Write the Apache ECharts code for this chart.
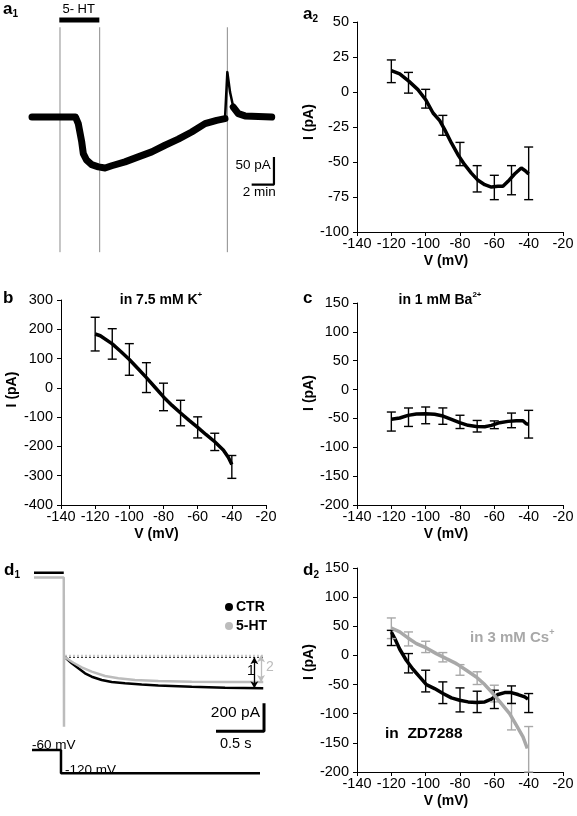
<!DOCTYPE html>
<html><head><meta charset="utf-8">
<script src="https://cdn.jsdelivr.net/npm/echarts@6/dist/echarts.min.js"></script>
<style>html,body{margin:0;padding:0;background:#fff}#c{width:577px;height:816px}</style>
</head><body><div id="c"></div>
<script>
// ---------- a1: holding current trace (time in min, current in pA) ----------
const a1Time      = [0, 3.9, 4.15, 4.46, 4.6, 4.9, 5.35, 5.95, 6.55, 7.15, 8.34, 9.53, 10.74, 11.93, 13.12, 14.32, 15.52, 16.56, 17.31, 17.52, 17.76, 18.05, 18.5, 19.1, 21.5];
const a1Current   = [0, 0, -12, -45, -66, -78, -86, -90, -92, -88, -81, -72, -63, -51, -40, -27, -12, -6, -3, 81, 45, 18, 6, 2, 0];
const a1SpikeIndex = [18, 21];          // first/last sample of the wash-out transient
const a1ArtifactTimes = [2.51, 6.07, 17.52];
const a1ArtifactSpan  = [162, -244];
const a1DrugTimes  = [2.45, 6.04];
const a1DrugLevel  = 175;
const a1ScaleTimes = [19.7, 21.7];      // 2 min
const a1ScaleCurr  = [-72, -122];       // 50 pA

// ---------- a2: I-V of 5-HT current ----------
const a2V = [-120,-115.1,-109.7,-104.5,-100,-95.7,-91.8,-88.9,-85,-81.2,-77.3,-73.4,-69.5,-65.6,-61.7,-57.9,-55,-52,-48.2,-44.3,-42,-40];
const a2I = [15.2,12.9,7.6,1.7,-5.5,-15,-20.5,-26.9,-36.4,-44.8,-51.9,-57.9,-63.1,-66.2,-67.9,-67.4,-67.4,-63.8,-58.6,-54.3,-56.2,-58.6];
const errV = [-120,-110,-100,-90,-80,-70,-60,-50,-40];
const a2Mean = [14.8,6.6,-4.8,-23.8,-44.3,-62,-68.2,-63,-58.1];
const a2Err  = [8.1,7.4,6.7,7.1,8.3,9.4,8.7,10.4,18.8];

// ---------- b: in 7.5 mM K+ ----------
const bV = [-120,-117,-110,-105,-100,-95,-90,-85,-80,-75,-70,-65,-60,-55,-50,-45,-42,-40];
const bI = [184,178,150,124,97,66,35,2,-31,-60,-86,-111,-135,-160,-184,-212,-238,-262];
const bMean = [183.5,150,97,35,-31,-86,-135,-184.5,-270];
const bErr  = [57.5,52,54,51,47,43.5,36,29.5,39];

// ---------- c: in 1 mM Ba2+ ----------
const cV = [-120,-115.1,-110.3,-105.4,-100,-94.8,-89.9,-85,-80.2,-75.3,-70.5,-65.6,-61.7,-56.9,-52,-47.2,-43.3,-41.4,-40];
const cI = [-51.6,-49.3,-44.7,-42.4,-41.8,-42.9,-45.8,-51.6,-57.4,-62,-63.8,-64.4,-62,-57.4,-55.1,-54,-54,-59.2,-60];
const cMean = [-55.4,-47.9,-44.7,-46,-56,-63.5,-61,-53.4,-60];
const cErr  = [16.5,16,14.5,14.2,11.5,10,6.7,12.7,24];

// ---------- d1: hyperpolarisation-activated current (time in s, current in pA) ----------
const d1BaseTime = [0, 0.31];
const d1CtrBase = 0, d1HtBase = -35;
const d1StepTime = 0.3125, d1Transient = -1100;
const d1CtrTime = [0.323,0.393,0.462,0.531,0.601,0.705,0.809,0.948,1.122,1.295,1.643,1.99,2.388];
const d1CtrI    = [-604,-647,-683,-719,-743,-766,-781,-790,-798,-805,-815,-822,-826];
const d1HtTime  = [0.323,0.41,0.497,0.601,0.74,0.878,1.052,1.295,1.643,1.99,2.388];
const d1HtI     = [-600,-643,-676,-707,-738,-754,-766,-774,-779,-781,-781];
const d1InstTime = [0.323, 2.39];
const d1ArrowTimes = [2.295, 2.365];
const d1ScaleTimes = [1.896, 2.396];   // 0.5 s
const d1ScaleCurr  = [-933, -1133];    // 200 pA
const protoTime = [0, 0.302, 0.302, 2.375];
const protoMv   = [-60, -60, -120, -120];

// ---------- d2: in ZD7288 / in 3 mM Cs+ ----------
const dZV = [-120,-118,-115.1,-111.3,-107.4,-103.5,-99.6,-94.8,-89.9,-85,-80.2,-75.3,-70.5,-65.6,-61.7,-57.9,-54,-50.1,-46.2,-42.3,-40.4];
const dZI = [40.3,28.9,10.6,-8.3,-23.7,-36.9,-50,-56.9,-65.4,-72.9,-76.9,-79.7,-80.9,-79.7,-75.1,-67.1,-63.7,-63.7,-67.1,-71.1,-75.1];
const dZMean = [30,-13.4,-44,-64,-76.3,-79.7,-75.4,-67.4,-81.7];
const dZErr  = [13,16.6,18.6,18.6,20.6,18.3,15.7,15.1,16.3];
const dCV = [-120,-115.1,-110.3,-105.4,-99.6,-93.8,-88,-82.1,-76.3,-70.5,-65.6,-60.8,-55.9,-51.1,-47.2,-43.3,-40.8];
const dCI = [47,40.3,30,20.3,12.9,3.1,-5.4,-14,-25.4,-36.9,-50,-65.4,-82.6,-99.7,-119.7,-139.7,-159.7];
const dCMean = [46.6,28.3,14.6,-3.1,-24.9,-39,-65.4,-105,-161];
const dCErr  = [17.7,12,9.7,8,9.1,10.9,14.3,22.8,39];

const ivTicksX = {min:-140, max:-20, step:20};

// ================= build chart =================
const FONT = "'Liberation Sans', Arial, Helvetica, sans-serif";
const GRAY = '#a8a8a8';
const LGRAY = '#bcbcbc';
const zip = (a, b) => a.map((v, i) => [v, b[i]]);

const grids = [
  {left:32,  top:0.66,  width:245.3, height:277},   // a1
  {left:357, top:22,    width:206,   height:210},   // a2
  {left:61,  top:300,   width:205,   height:205},   // b
  {left:357, top:303,   width:206,   height:202},   // c
  {left:34,  top:558.7, width:240,   height:196},   // d1 current
  {left:32,  top:742.2, width:240,   height:38.9},  // d1 voltage
  {left:357, top:568,   width:206,   height:204}    // d2
];

function hiddenX(gi, min, max){ return {gridIndex:gi, type:'value', min, max, show:false}; }
function ivX(gi, shift){
  return {gridIndex:gi, type:'value', min:ivTicksX.min, max:ivTicksX.max, interval:ivTicksX.step,
    axisLine:{show:true, onZero:false, lineStyle:{color:'#000', width:1}},
    axisTick:{show:true, length:4, lineStyle:{color:'#000'}},
    axisLabel:{color:'#000', fontFamily:FONT, fontSize:14.5, margin:4, hideOverlap:false, interval:0},
    splitLine:{show:false},
    name:'V (mV)', nameLocation:'middle', nameGap:22,
    nameTextStyle:{color:'#000', fontFamily:FONT, fontSize:14, fontWeight:'bold', padding:[0, shift, 0, 0]}};
}
function ivY(gi, min, max, interval, gap, up){
  return {gridIndex:gi, type:'value', min, max, interval,
    axisLine:{show:true, onZero:false, lineStyle:{color:'#000', width:1}},
    axisTick:{show:true, length:4, lineStyle:{color:'#000'}},
    axisLabel:{color:'#000', fontFamily:FONT, fontSize:14.5, margin:8, hideOverlap:false, interval:0},
    splitLine:{show:false},
    name:'I (pA)', nameLocation:'middle', nameGap:gap, nameRotate:90,
    nameTextStyle:{color:'#000', fontFamily:FONT, fontSize:14, fontWeight:'bold', padding:[0, 0, 0, up]}};
}

const xAxis = [
  hiddenX(0, 0, 22),
  ivX(1, 28), ivX(2, 14), ivX(3, 28),
  hiddenX(4, 0, 2.5), hiddenX(5, 0, 2.5),
  ivX(6, 28)
];
const yAxis = [
  {gridIndex:0, type:'value', min:-290, max:210, show:false},
  ivY(1, -100, 50, 25, 38, 10),
  ivY(2, -400, 300, 100, 42, 26),
  ivY(3, -200, 150, 50, 36, 22),
  {gridIndex:4, type:'value', min:-1300, max:100, show:false},
  {gridIndex:5, type:'value', min:-140, max:-40, show:false},
  ivY(6, -200, 150, 50, 36, 16)
];

function line(ax, data, color, width, extra){
  return Object.assign({type:'line', xAxisIndex:ax, yAxisIndex:ax, data, symbol:'none', showSymbol:false,
    lineStyle:{color, width}, itemStyle:{color}, animation:false, silent:true, z:3}, extra || {});
}
function errRender(color){
  return function(params, api){
    const x = api.value(0), m = api.value(1), e = api.value(2);
    const top = api.coord([x, m + e]), bot = api.coord([x, m - e]);
    const hw = 4.5;
    const style = {stroke:color, lineWidth:1.4};
    return {type:'group', children:[
      {type:'line', shape:{x1:top[0], y1:top[1], x2:bot[0], y2:bot[1]}, style},
      {type:'line', shape:{x1:top[0]-hw, y1:top[1], x2:top[0]+hw, y2:top[1]}, style},
      {type:'line', shape:{x1:bot[0]-hw, y1:bot[1], x2:bot[0]+hw, y2:bot[1]}, style}
    ]};
  };
}
function errSeries(ax, means, errs, color){
  return {type:'custom', xAxisIndex:ax, yAxisIndex:ax, renderItem:errRender(color),
    data:errV.map((v, i) => [v, means[i], errs[i]]), encode:{x:0, y:1}, animation:false, silent:true, z:4, clip:false};
}

const series = [];
// a1
const a1Pts = zip(a1Time, a1Current);
a1ArtifactTimes.forEach(t => series.push(line(0, a1ArtifactSpan.map(v => [t, v]), '#8c8c8c', 1, {z:2})));
series.push(line(0, a1Pts.slice(0, a1SpikeIndex[0] + 1), '#000', 7, {lineStyle:{color:'#000', width:7, join:'round', cap:'round'}}));
series.push(line(0, a1Pts.slice(a1SpikeIndex[0], a1SpikeIndex[1] + 1), '#000', 2.5, {lineStyle:{color:'#000', width:2.5, join:'round'}}));
series.push(line(0, a1Pts.slice(a1SpikeIndex[1]), '#000', 7, {lineStyle:{color:'#000', width:7, join:'round', cap:'round'}}));
series.push(line(0, a1DrugTimes.map(t => [t, a1DrugLevel]), '#000', 5));
series.push(line(0, [[a1ScaleTimes[1], a1ScaleCurr[0]], [a1ScaleTimes[1], a1ScaleCurr[1]], [a1ScaleTimes[0], a1ScaleCurr[1]]], '#000', 2.2));
// a2
series.push(line(1, zip(a2V, a2I), '#000', 3.5));
series.push(errSeries(1, a2Mean, a2Err, '#000'));
// b
series.push(line(2, zip(bV, bI), '#000', 3.5));
series.push(errSeries(2, bMean, bErr, '#000'));
// c
series.push(line(3, zip(cV, cI), '#000', 3.5));
series.push(errSeries(3, cMean, cErr, '#000'));
// d1
series.push(line(4, d1InstTime.map(t => [t, d1HtI[0] + 10]), LGRAY, 1, {lineStyle:{color:LGRAY, width:1, type:[2,2]}}));
series.push(line(4, d1InstTime.map(t => [t, d1CtrI[0]]), '#000', 1, {lineStyle:{color:'#000', width:1, type:[2,2]}}));
series.push(line(4, d1BaseTime.map(t => [t, d1CtrBase]).concat([[d1StepTime, null]]).concat(zip(d1CtrTime, d1CtrI)), '#000', 2.5, {name:'CTR', connectNulls:false}));
series.push(line(4, d1BaseTime.map(t => [t, d1HtBase]).concat([[d1StepTime, d1HtBase], [d1StepTime, d1Transient], [d1StepTime, d1HtI[0]]]).concat(zip(d1HtTime, d1HtI)), LGRAY, 2.5, {name:'5-HT', z:4}));
series.push(line(4, [[d1ArrowTimes[0], d1CtrI[0]]], '#000', 1, {markLine:{silent:true, animation:false, symbol:['arrow','arrow'], symbolSize:[6,7],
  lineStyle:{color:'#000', width:1.3, type:'solid'}, label:{show:false},
  data:[[{coord:[d1ArrowTimes[0], d1CtrI[0]]}, {coord:[d1ArrowTimes[0], d1CtrI[d1CtrI.length-1]]}]]}}));
series.push(line(4, [[d1ArrowTimes[1], d1HtI[0]]], LGRAY, 1, {markLine:{silent:true, animation:false, symbol:['arrow','arrow'], symbolSize:[6,7],
  lineStyle:{color:LGRAY, width:1.3, type:'solid'}, label:{show:false},
  data:[[{coord:[d1ArrowTimes[1], d1HtI[0] + 10]}, {coord:[d1ArrowTimes[1], d1HtI[d1HtI.length-1]]}]]}}));
series.push(line(4, [[d1ScaleTimes[1], d1ScaleCurr[0]], [d1ScaleTimes[1], d1ScaleCurr[1]], [d1ScaleTimes[0], d1ScaleCurr[1]]], '#000', 3));
series.push(line(5, zip(protoTime, protoMv), '#000', 2.5));
// d2
series.push(line(6, zip(dZV, dZI), '#000', 3.5));
series.push(line(6, zip(dCV, dCI), GRAY, 3.5, {z:5}));
series.push(errSeries(6, dCMean, dCErr, GRAY));
series.push(errSeries(6, dZMean, dZErr, '#000'));

function txt(x, y, text, font, opts){
  opts = opts || {};
  return {type:'text', x, y, rotation:opts.rot || 0, silent:true, z:10,
    style:Object.assign({text, font, fill:opts.fill || '#000', align:opts.align || 'left', verticalAlign:'middle'}, opts.style || {})};
}
function panelLabel(x, y, letter, sub){
  return {type:'text', x, y, silent:true, z:10, style:{
    text: sub ? '{m|' + letter + '}{s|' + sub + '}' : '{m|' + letter + '}',
    align:'left', verticalAlign:'middle',
    rich:{m:{fontFamily:FONT, fontSize:17, fontWeight:'bold', fill:'#000', lineHeight:21, verticalAlign:'middle'},
          s:{fontFamily:FONT, fontSize:10, fontWeight:'bold', fill:'#000', lineHeight:10, verticalAlign:'bottom'}}}};
}
function titleSup(x, y, main, sup, size, color, align){
  return {type:'text', x, y, silent:true, z:10, style:{
    text:'{m|' + main + '}{s|' + sup + '}', align:align, verticalAlign:'middle',
    rich:{m:{fontFamily:FONT, fontSize:size, fontWeight:'bold', fill:color, lineHeight:size + 2, verticalAlign:'bottom'},
          s:{fontFamily:FONT, fontSize:Math.round(size*0.6), fontWeight:'bold', fill:color, lineHeight:Math.round(size*0.6), verticalAlign:'top'}}}};
}
const graphic = [
  panelLabel(3, 9, 'a', '1'),
  panelLabel(303, 14, 'a', '2'),
  panelLabel(3, 298, 'b'),
  panelLabel(303, 298, 'c'),
  panelLabel(4, 570, 'd', '1'),
  panelLabel(303, 570, 'd', '2'),
  txt(78.7, 9, '5- HT', '13px ' + FONT, {align:'center'}),
  txt(270.7, 165.5, '50 pA', '13.5px ' + FONT, {align:'right'}),
  txt(242.7, 192, '2 min', '13.5px ' + FONT),
  titleSup(161, 299, 'in 7.5 mM K', '+', 14, '#000', 'center'),
  titleSup(440, 299, 'in 1 mM Ba', '2+', 14, '#000', 'center'),
  titleSup(470, 637, 'in 3 mM Cs', '+', 15, GRAY, 'left'),
  txt(385, 734, 'in  ZD7288', 'bold 15.5px ' + FONT),
  txt(247, 671, '1', '14px ' + FONT),
  txt(266, 667, '2', '14px ' + FONT, {fill:LGRAY}),
  txt(260, 713, '200 pA', '15.5px ' + FONT, {align:'right'}),
  txt(220, 744, '0.5 s', '14.5px ' + FONT),
  txt(32, 745.5, '-60 mV', '13.5px ' + FONT),
  txt(65, 770.5, '-120 mV', '13.5px ' + FONT)
];

const chart = echarts.init(document.getElementById('c'), null, {renderer:'canvas'});
chart.setOption({
  animation:false,
  backgroundColor:'#fff',
  textStyle:{fontFamily:FONT},
  grid:grids, xAxis, yAxis, series, graphic,
  legend:{data:[{name:'CTR', icon:'circle', itemStyle:{color:'#000'}}, {name:'5-HT', icon:'circle', itemStyle:{color:LGRAY}}],
    orient:'vertical', left:220, top:595, itemWidth:8, itemHeight:8, itemGap:5, selectedMode:false,
    textStyle:{fontFamily:FONT, fontSize:14, fontWeight:'bold', color:'#000', padding:[0,0,0,-2]}}
});
</script></body></html>
